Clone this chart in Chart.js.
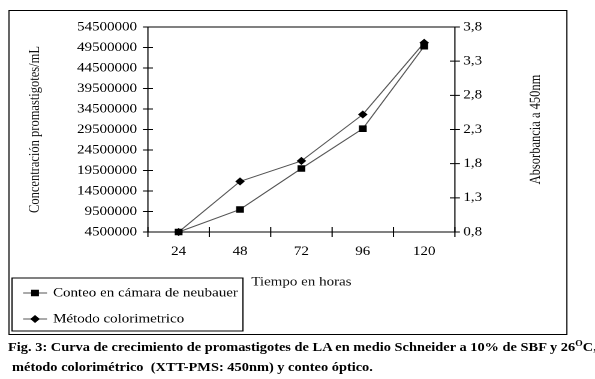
<!DOCTYPE html>
<html>
<head>
<meta charset="utf-8">
<script src="https://cdn.jsdelivr.net/npm/chart.js@4/dist/chart.umd.min.js"></script>
<style>
  html, body { margin: 0; padding: 0; background: #fff; }
  body { width: 595px; height: 379px; overflow: hidden; position: relative; }
  #wrap { position: absolute; left: 0; top: 0; width: 496px; height: 379px;
          transform: scaleX(1.1996); transform-origin: 0 0; }
  #frame { position: absolute; left: 6.7px; top: 10px; width: 464px; height: 323px;
           border: 1px solid #000; box-sizing: content-box; }
  #chart { position: absolute; left: 0; top: 0; }
  .cap { position: absolute; font-family: "Liberation Serif", "Times New Roman", serif;
         font-weight: bold; font-size: 12px; line-height: 20px; color: #000; white-space: nowrap; }
  .cap sup { font-size: 8px; vertical-align: 5px; line-height: 0; }
</style>
</head>
<body>
<div id="wrap">
  <div id="frame"></div>
  <canvas id="chart" width="496" height="379"></canvas>
  <div class="cap" style="left:6.7px; top:337px;">Fig. 3: Curva de crecimiento de promastigotes de LA en medio Schneider a 10% de SBF y 26<sup>O</sup>C,</div>
  <div class="cap" style="left:10px; top:357px;">método colorimétrico&nbsp; (XTT-PMS: 450nm) y conteo óptico.</div>
</div>
<script>
// ---- data ----
const categories = ['24', '48', '72', '96', '120'];
const conteoNeubauer = [4500000, 10000000, 20000000, 29700000, 49800000];
const metodoColorimetrico = [0.8, 1.54, 1.84, 2.52, 3.57];
const seriesNames = ['Conteo en cámara de neubauer', 'Método colorimetrico'];
const leftTitle = 'Concentración promastigotes/mL';
const rightTitle = 'Absorbancia a 450nm';
const xTitle = 'Tiempo en horas';

const FONT = '"Liberation Serif", "Times New Roman", serif';
const FS = 12.5;

// fixed chart area (unscaled coords)
const AREA = { left: 123.3, right: 379.2, top: 27, bottom: 232 };
const W = 496, H = 379;

const decoPlugin = {
  id: 'deco',
  beforeDatasetsDraw(chart) {
    const { ctx, chartArea: a, scales } = chart;
    ctx.save();
    ctx.strokeStyle = '#000';
    ctx.lineWidth = 1;
    ctx.strokeRect(a.left, a.top, a.right - a.left, a.bottom - a.top);
    ctx.beginPath();
    scales.y.ticks.forEach((t, i) => {
      const p = scales.y.getPixelForTick(i);
      ctx.moveTo(a.left - 4.2, p); ctx.lineTo(a.left + 4.2, p);
    });
    scales.y1.ticks.forEach((t, i) => {
      const p = scales.y1.getPixelForTick(i);
      ctx.moveTo(a.right - 4.2, p); ctx.lineTo(a.right + 4.2, p);
    });
    for (let k = 0; k <= categories.length; k++) {
      const p = scales.x.getPixelForValue(k - 0.5);
      ctx.moveTo(p, a.bottom - 5); ctx.lineTo(p, a.bottom + 5);
    }
    ctx.stroke();
    ctx.restore();
  },
  afterDraw(chart) {
    const { ctx, chartArea: a } = chart;
    ctx.save();
    ctx.fillStyle = '#111';
    ctx.font = FS + 'px ' + FONT;
    ctx.textAlign = 'center';
    ctx.textBaseline = 'middle';
    const cy = (a.top + a.bottom) / 2;
    ctx.save(); ctx.translate(29.2, cy); ctx.rotate(-Math.PI / 2); ctx.fillText(leftTitle, 0, 0); ctx.restore();
    ctx.save(); ctx.translate(446.7, cy); ctx.rotate(-Math.PI / 2); ctx.fillText(rightTitle, 0, 0); ctx.restore();
    ctx.fillText(xTitle, (a.left + a.right) / 2, 282);

    ctx.strokeStyle = '#000';
    ctx.lineWidth = 1;
    ctx.strokeRect(10, 278, 192.5, 53);
    const rows = [293, 319];
    chart.data.datasets.forEach((ds, i) => {
      const y = rows[i];
      ctx.beginPath();
      ctx.strokeStyle = ds.borderColor;
      ctx.lineWidth = ds.borderWidth;
      ctx.moveTo(19.2, y); ctx.lineTo(39.2, y);
      ctx.stroke();
      ctx.fillStyle = '#000';
      ctx.strokeStyle = '#000';
      Chart.helpers.drawPoint(ctx, { pointStyle: ds.pointStyle, radius: ds.pointRadius, borderWidth: 1, rotation: 0 }, 29.2, y);
      ctx.textAlign = 'left';
      ctx.fillText(ds.label, 44.2, y);
    });
    ctx.restore();
  }
};

new Chart(document.getElementById('chart'), {
  type: 'line',
  data: {
    labels: categories,
    datasets: [
      {
        label: seriesNames[0],
        data: conteoNeubauer,
        yAxisID: 'y',
        borderColor: '#555',
        borderWidth: 1,
        pointStyle: 'rect',
        pointRadius: 3.9,
        pointBackgroundColor: '#000',
        pointBorderColor: '#000',
        pointBorderWidth: 1,
        tension: 0,
        clip: false
      },
      {
        label: seriesNames[1],
        data: metodoColorimetrico,
        yAxisID: 'y1',
        borderColor: '#555',
        borderWidth: 1,
        pointStyle: 'rectRot',
        pointRadius: 3.3,
        pointBackgroundColor: '#000',
        pointBorderColor: '#000',
        pointBorderWidth: 1,
        tension: 0,
        clip: false
      }
    ]
  },
  options: {
    responsive: false,
    devicePixelRatio: 2,
    animation: false,
    events: [],
    layout: { padding: { top: AREA.top, left: 0, right: 0, bottom: 0 } },
    plugins: { legend: { display: false }, tooltip: { enabled: false }, title: { display: false } },
    scales: {
      x: {
        type: 'category',
        offset: true,
        grid: { display: false, drawTicks: false, tickLength: 0 },
        border: { display: false },
        ticks: { color: '#000', font: { family: FONT, size: FS }, padding: 12, maxRotation: 0 },
        afterFit(s) { s.height = H - AREA.bottom; }
      },
      y: {
        position: 'left',
        min: 4500000, max: 54500000,
        grid: { display: false, drawTicks: false, tickLength: 0 },
        border: { display: false },
        ticks: { stepSize: 5000000, color: '#000', font: { family: FONT, size: FS }, padding: 9,
                 callback: v => String(Math.round(v)) },
        afterFit(s) { s.width = AREA.left; }
      },
      y1: {
        position: 'right',
        min: 0.8, max: 3.8,
        grid: { display: false, drawTicks: false, tickLength: 0 },
        border: { display: false },
        ticks: { stepSize: 0.5, color: '#000', font: { family: FONT, size: FS }, padding: 7,
                 callback: v => v.toFixed(1).replace('.', ',') },
        afterFit(s) { s.width = W - AREA.right; }
      }
    }
  },
  plugins: [decoPlugin]
});
</script>
</body>
</html>
